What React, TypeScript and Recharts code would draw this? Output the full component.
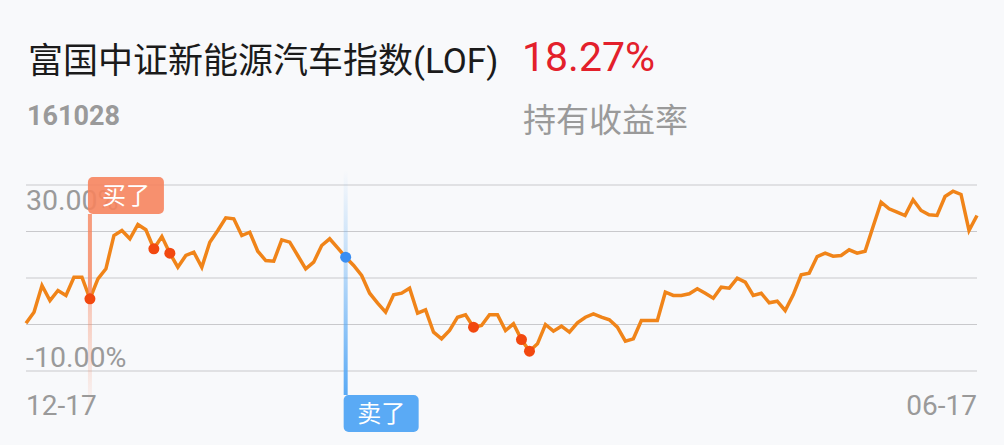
import React from 'react';
import { LineChart, Line, XAxis, YAxis, ReferenceLine } from 'recharts';

const FONT = 'Roboto, "Noto Sans CJK SC", sans-serif';

const fundName = '富国中证新能源汽车指数(LOF)';
const fundCode = '161028';
const holdReturn = '18.27%';
const holdReturnLabel = '持有收益率';

const returns = [
  0.28, 2.65, 8.39, 5.16, 7.31, 6.24, 10.17, 10.17, 5.53, 9.83,
  11.98, 19.14, 20.22, 18.43, 21.51, 20.37, 16.28, 18.92, 15.33, 12.32,
  14.84, 15.55, 12.32, 17.7, 20.22, 22.95, 22.73, 19.14, 19.85, 15.76,
  13.76, 13.61, 18.22, 17.7, 14.84, 11.98, 13.4, 16.99, 18.43, 16.49,
  14.47, 12.69, 10.54, 6.73, 4.58, 2.65, 6.39, 6.73, 7.81, 2.43,
  3.16, -1.66, -3.08, -1.29, 1.57, 2.09, -0.58, -0.22, 2.09, 2.09,
  -1.29, 0.15, -3.23, -5.74, -4.15, 0.0, -1.44, -0.37, -1.66, 0.37,
  1.57, 2.3, 1.57, 1.01, -0.58, -3.59, -3.08, 0.86, 0.86, 0.86,
  6.95, 6.24, 6.24, 6.6, 7.68, 6.73, 5.66, 8.02, 7.81, 9.96,
  9.1, 6.24, 6.73, 4.67, 5.01, 3.01, 6.39, 10.69, 11.03, 14.62,
  15.33, 14.69, 14.84, 16.06, 15.33, 15.76, 21.08, 26.3, 24.88, 24.15,
  23.44, 26.82, 24.52, 23.59, 23.44, 27.53, 28.67, 27.96, 20.22, 23.44,
];

const gridValues = [30, 20, 10, 0, -10];
const yLabelValues = [30, -10];
const yLabelTexts = ['30.00%', '-10.00%'];
const xTickIndex = [0, 119];
const xTickLabels = ['12-17', '06-17'];
const buyIndex = 8;
const sellIndex = 40;
const tradeDotIndex = [16, 18, 56, 62, 63];
const buyLabel = '买了';
const sellLabel = '卖了';

const data = returns.map((v, i) => ({ day: i, ret: v }));

const W = 1004;
const H = 445;
const PLOT_TOP = 185;
const X_AXIS_H = 74;

const GRID = '#c9c9cc';
const AXIS_TEXT = '#9a9a9a';
const LINE = '#f08419';
const DOT_RED = '#f2480f';
const DOT_BLUE = '#3a8ef2';
const BUY_COLOR = '#f6845e';
const SELL_COLOR = '#5aaaf5';

const YLabel = (props: any) => {
  const { viewBox, text, below } = props;
  if (!viewBox) return null;
  return (
    <text
      x={viewBox.x}
      y={below ? viewBox.y + 25 : viewBox.y - 4}
      fill={AXIS_TEXT}
      fontSize={28.5}
      fontFamily={FONT}
      textAnchor="start"
    >
      {text}
    </text>
  );
};

const XTick = (props: any) => {
  const { x, y, payload } = props;
  const k = xTickIndex.indexOf(payload.value);
  if (k < 0) return <g />;
  return (
    <text
      x={x}
      y={y + 44}
      fill={AXIS_TEXT}
      fontSize={28}
      fontFamily={FONT}
      textAnchor={k === 0 ? 'start' : 'end'}
    >
      {xTickLabels[k]}
    </text>
  );
};

const MarkerLayer = (props: any) => {
  const { cx, cy, index } = props;
  const plotBottom = H - X_AXIS_H;
  if (index === buyIndex) {
    const boxTop = PLOT_TOP - 8;
    const boxH = 37;
    const lowEnd = plotBottom + 34;
    return (
      <g key={`m${index}`}>
        <defs>
          <linearGradient id="buyFade" x1="0" y1="0" x2="0" y2="1">
            <stop offset="0%" stopColor={BUY_COLOR} stopOpacity={0.45} />
            <stop offset="100%" stopColor={BUY_COLOR} stopOpacity={0.05} />
          </linearGradient>
        </defs>
        <rect x={cx - 2} y={boxTop + boxH} width={4} height={cy - boxTop - boxH} fill={BUY_COLOR} fillOpacity={0.8} />
        <rect x={cx - 2} y={cy} width={4} height={lowEnd - cy} fill="url(#buyFade)" />
        <rect x={cx - 2} y={boxTop} width={76} height={boxH} rx={5} fill={BUY_COLOR} fillOpacity={0.9} />
        <text x={cx - 2 + 38} y={boxTop + 27} fill="#fff" fontSize={24} fontFamily={FONT} textAnchor="middle">
          {buyLabel}
        </text>
      </g>
    );
  }
  if (index === sellIndex) {
    const topStart = PLOT_TOP - 15;
    const boxTop = plotBottom + 24;
    const boxH = 37;
    return (
      <g key={`m${index}`}>
        <defs>
          <linearGradient id="sellFade" x1="0" y1="0" x2="0" y2="1">
            <stop offset="0%" stopColor={SELL_COLOR} stopOpacity={0} />
            <stop offset="40%" stopColor={SELL_COLOR} stopOpacity={0.35} />
            <stop offset="100%" stopColor={SELL_COLOR} stopOpacity={1} />
          </linearGradient>
        </defs>
        <rect x={cx - 2} y={topStart} width={4} height={boxTop - topStart} fill="url(#sellFade)" />
        <rect x={cx - 2} y={boxTop} width={75} height={boxH} rx={5} fill={SELL_COLOR} />
        <text x={cx - 2 + 37.5} y={boxTop + 27} fill="#fff" fontSize={24} fontFamily={FONT} textAnchor="middle">
          {sellLabel}
        </text>
      </g>
    );
  }
  return <g key={`m${index}`} />;
};

const TradeDot = (props: any) => {
  const { cx, cy, index } = props;
  if (index === buyIndex || tradeDotIndex.includes(index)) {
    return <circle key={`d${index}`} cx={cx} cy={cy} r={5.5} fill={DOT_RED} />;
  }
  if (index === sellIndex) {
    return <circle key={`d${index}`} cx={cx} cy={cy} r={5.5} fill={DOT_BLUE} />;
  }
  return <g key={`d${index}`} />;
};

export default function App() {
  return (
    <div
      style={{
        position: 'absolute',
        left: 0,
        top: 0,
        width: W,
        height: H,
        background: '#f8f9fb',
        overflow: 'hidden',
      }}
    >
      <svg width={W} height={160} style={{ position: 'absolute', left: 0, top: 0 }}>
        <text x={28} y={73} fontSize={35} fill="#1b1b1b" fontFamily={FONT}>
          {fundName}
        </text>
        <text x={522} y={71} fontSize={41} fill="#e3202b" fontFamily={FONT}>
          {holdReturn}
        </text>
        <text x={27} y={125} fontSize={27} fontWeight="bold" fill={AXIS_TEXT} fontFamily={FONT}>
          {fundCode}
        </text>
        <text x={523} y={132} fontSize={33} fill={AXIS_TEXT} fontFamily={FONT}>
          {holdReturnLabel}
        </text>
      </svg>
      <div style={{ position: 'absolute', left: 0, top: 0 }}>
        <LineChart width={W} height={H} data={data} margin={{ top: PLOT_TOP, right: 27, bottom: 0, left: 26 }}>
          <XAxis
            dataKey="day"
            type="category"
            ticks={xTickIndex}
            interval={0}
            axisLine={false}
            tickLine={false}
            tickSize={0}
            tickMargin={0}
            height={X_AXIS_H}
            tick={<XTick />}
          />
          <YAxis type="number" domain={[-10, 30]} hide />
          {gridValues.map((g) => {
            const k = yLabelValues.indexOf(g);
            return (
              <ReferenceLine
                key={`g${g}`}
                y={g}
                stroke={GRID}
                strokeWidth={1}
                label={k >= 0 ? <YLabel text={yLabelTexts[k]} below={k === 0} /> : undefined}
              />
            );
          })}
          <Line
            dataKey="ret"
            stroke="none"
            dot={MarkerLayer}
            activeDot={false}
            isAnimationActive={false}
          />
          <Line
            dataKey="ret"
            stroke={LINE}
            strokeWidth={3.5}
            strokeLinejoin="miter"
            dot={TradeDot}
            activeDot={false}
            isAnimationActive={false}
          />
        </LineChart>
      </div>
    </div>
  );
}
